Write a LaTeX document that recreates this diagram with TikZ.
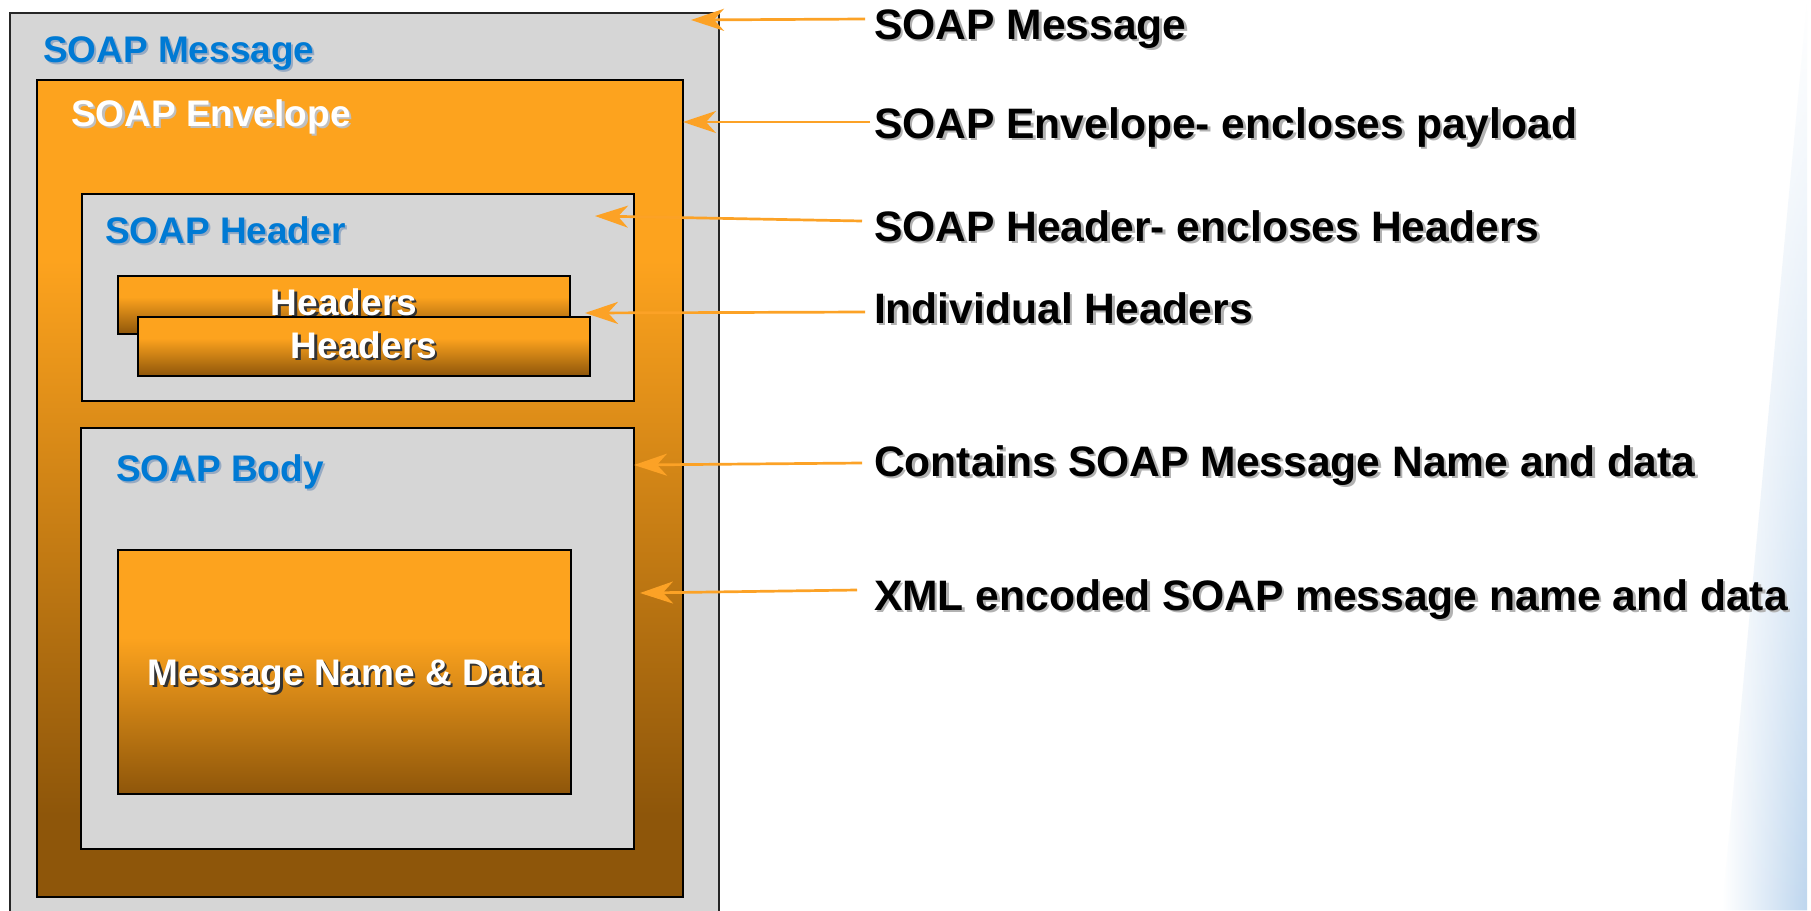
\documentclass[tikz,border=0pt]{standalone}
\usepackage{fontspec}
\setmainfont{Liberation Sans}
\usetikzlibrary{arrows.meta,fadings}
\definecolor{boxgray}{RGB}{214,214,214}
\definecolor{orT}{RGB}{253,163,30}
\definecolor{brB}{RGB}{142,86,10}
\definecolor{lblue}{RGB}{0,122,212}
\definecolor{shblue}{RGB}{150,170,195}
\definecolor{arr}{RGB}{252,162,38}
\definecolor{bgblue}{RGB}{190,214,238}
\pgfdeclareverticalshading{orbr}{100bp}{color(0bp)=(brB); color(25bp)=(brB); color(57bp)=(orT); color(75bp)=(orT); color(100bp)=(orT)}
\pgfdeclareverticalshading{envsh}{100bp}{color(0bp)=(brB); color(30bp)=(brB); color(64bp)=(orT); color(75bp)=(orT); color(100bp)=(orT)}
\begin{document}
\begin{tikzpicture}[x=1pt,y=-1pt,
  every node/.style={inner sep=0pt, outer sep=0pt},
  frame/.style={draw=black, line width=2.6pt, anchor=north west, rectangle},
  graybox/.style={frame, fill=boxgray},
  orbox/.style={frame, shade, shading=orbr},
  envbox/.style={frame, shade, shading=envsh},
  lab/.style={font=\fontsize{37}{44}\selectfont\bfseries},
  side/.style={font=\fontsize{42.6}{50}\selectfont\bfseries, anchor=base west},
  conn/.style={draw=arr, line width=2.7pt, -{Stealth[length=33pt,width=22pt,inset=10pt]}}
]
\useasboundingbox (0,0) rectangle (1811,910);
\fill[white] (0,0) rectangle (1811,910);
% right background tint
\shade[left color=white, right color=bgblue, path fading=north] (1722,910) -- (1807,0) -- (1807,910) -- cycle;

\begin{scope}
\clip (0,0) rectangle (1811,910);
\node[graybox, draw=black!85, line width=2.2pt, minimum width=709pt, minimum height=930pt] (msg) at (10,13) {};
\node[envbox, minimum width=646pt, minimum height=817pt] (env) at (37,80) {};
\node[graybox, minimum width=552pt, minimum height=207pt] (hdr) at (82,194) {};
\node[orbox, minimum width=452pt, minimum height=58pt] (h1) at (118,276) {};
\node[lab, anchor=base, text=black!80] (h1ts) at (346.5,317.5) {Headers};
\node[lab, anchor=base, text=white] (h1t) at (344,315) {Headers};
\node[orbox, minimum width=452pt, minimum height=59pt] (h2) at (138,317) {};
\node[graybox, minimum width=553pt, minimum height=421pt] (body) at (81,428) {};
\node[orbox, minimum width=453pt, minimum height=244pt] (mnd) at (118,550) {};
\end{scope}

% left labels
\node[lab, anchor=base west, text=shblue] (tmsgs) at (45,64) {SOAP Message};
\node[lab, anchor=base west, text=lblue] (tmsg) at (43,62) {SOAP Message};
\node[lab, anchor=base west, text=black!25] (tenvs) at (73.5,128.5) {SOAP Envelope};
\node[lab, anchor=base west, text=white] (tenv) at (71,126) {SOAP Envelope};
\node[lab, anchor=base west, text=shblue] (thdrs) at (107,245) {SOAP Header};
\node[lab, anchor=base west, text=lblue] (thdr) at (105,243) {SOAP Header};
\node[lab, anchor=base, text=black!80] (h2ts) at (366.5,360.5) {Headers};
\node[lab, anchor=base, text=white] (h2t) at (364,358) {Headers};
\node[lab, anchor=base west, text=shblue] (tbodys) at (118,483) {SOAP Body};
\node[lab, anchor=base west, text=lblue] (tbody) at (116,481) {SOAP Body};
\node[lab, anchor=base, text=black!80] (tmnds) at (347.5,687.5) {Message Name \& Data};
\node[lab, anchor=base, text=white] (tmnd) at (345,685) {Message Name \& Data};

% right labels
\foreach \nm/\yy/\tx in {r1/39/{SOAP Message},
  r2/138/{SOAP Envelope- encloses payload},
  r3/241/{SOAP Header- encloses Headers},
  r4/323/{Individual Headers},
  r5/476/{Contains SOAP Message Name and data},
  r6/610/{XML encoded SOAP message name and data}}{
  \node[side, text=black!30] (\nm s) at (876.5,\yy+2.5) {\tx};
  \node[side, text=black] (\nm) at (874,\yy) {\tx};
}

% connectors
\coordinate (a1s) at (865,19);  \coordinate (a1e) at (691,20);
\coordinate (a2s) at (870,122); \coordinate (a2e) at (env.east |- a2s);
\coordinate (a3s) at (862,221); \coordinate (a3e) at (595,216);
\coordinate (a4s) at (865,312); \coordinate (a4e) at (585,313);
\coordinate (a5s) at (862,463); \coordinate (a5e) at (634,465);
\coordinate (a6s) at (857,590); \coordinate (a6e) at (640,593);
\foreach \i in {1,...,6}{ \draw[conn] (a\i s) -- (a\i e); }
\end{tikzpicture}
\end{document}
